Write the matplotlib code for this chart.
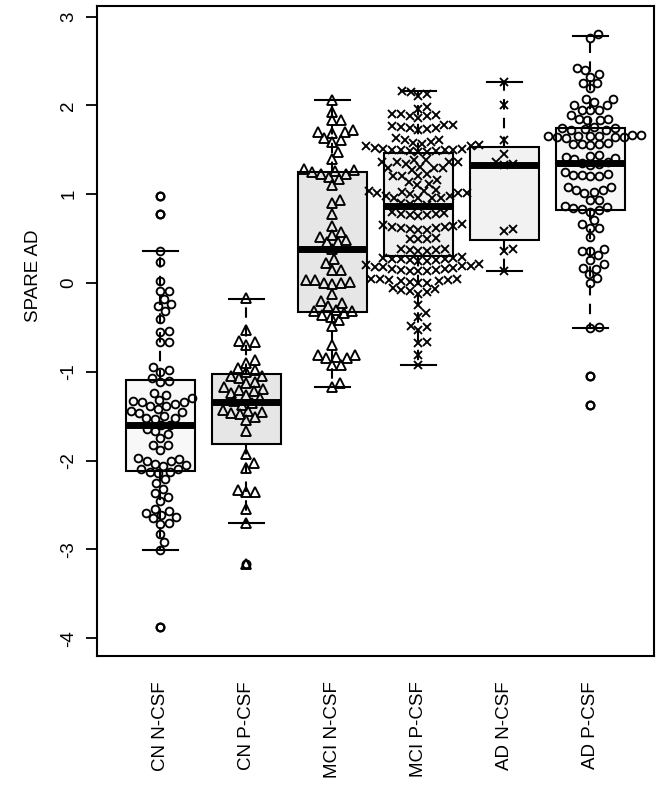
import numpy as np
import matplotlib
matplotlib.use('Agg')
import matplotlib.pyplot as plt

plt.rcParams['font.family'] = ['Liberation Sans', 'DejaVu Sans']

groups = ['CN N-CSF', 'CN P-CSF', 'MCI N-CSF', 'MCI P-CSF', 'AD N-CSF', 'AD P-CSF']
markers = ['o', '^', '^', 'x', 'x', 'o']
box_fill = ['#f8f8f8', '#e6e6e6', '#e6e6e6', '#f0f0f0', '#f2f2f2', '#f7f7f7']

# SPARE AD scores
cn_ncsf = [0.98, 0.78, 0.36, 0.24, 0.02, -0.09, -0.09, -0.18, -0.24, -0.26, -0.32, -0.40,
           -0.54, -0.55, -0.66, -0.66, -0.95, -0.98, -1.00, -1.07, -1.10, -1.11, -1.24, -1.26,
           -1.30, -1.32, -1.33, -1.34, -1.34, -1.36, -1.38, -1.38, -1.42, -1.44, -1.45, -1.46,
           -1.50, -1.52, -1.52, -1.53, -1.60, -1.60, -1.64, -1.67, -1.70, -1.75, -1.82, -1.83,
           -1.88, -1.97, -1.98, -2.00, -2.01, -2.04, -2.05, -2.06, -2.09, -2.10, -2.13, -2.13,
           -2.14, -2.21, -2.25, -2.32, -2.37, -2.41, -2.45, -2.54, -2.57, -2.59, -2.61, -2.64,
           -2.65, -2.70, -2.71, -2.83, -2.92, -3.01, -3.87]
cn_pcsf = [-0.17, -0.53, -0.65, -0.67, -0.70, -0.87, -0.90, -0.96, -0.98, -1.00, -1.05, -1.05,
           -1.07, -1.11, -1.13, -1.17, -1.19, -1.20, -1.22, -1.24, -1.26, -1.30, -1.33, -1.35,
           -1.37, -1.43, -1.44, -1.45, -1.46, -1.47, -1.51, -1.54, -1.67, -1.93, -2.03, -2.08,
           -2.33, -2.35, -2.35, -2.55, -2.70, -3.17]
mci_ncsf = [2.06, 1.93, 1.84, 1.83, 1.72, 1.70, 1.70, 1.69, 1.63, 1.61, 1.59, 1.48, 1.40,
            1.28, 1.27, 1.26, 1.25, 1.23, 1.23, 1.19, 1.17, 1.10, 0.94, 0.90, 0.78, 0.64, 0.57,
            0.54, 0.52, 0.48, 0.46, 0.46, 0.38, 0.27, 0.22, 0.15, 0.15, 0.03, 0.03, 0.01, 0.00,
            0.00, -0.01, -0.12, -0.20, -0.23, -0.26, -0.30, -0.31, -0.32, -0.34, -0.36, -0.38,
            -0.42, -0.49, -0.70, -0.81, -0.81, -0.83, -0.85, -0.85, -0.92, -0.92, -1.13, -1.17]
mci_pcsf = [2.16, 2.15, 2.13, 2.10,
            1.98, 1.96, 1.90, 1.90, 1.89, 1.88, 1.88, 1.86,
            1.78, 1.78, 1.77, 1.76, 1.75, 1.74, 1.73, 1.72,
            1.63, 1.61, 1.61, 1.59, 1.58, 1.57, 1.55, 1.54, 1.54, 1.52,
            1.51, 1.51, 1.50, 1.50, 1.50, 1.50, 1.49, 1.49, 1.48, 1.48,
            1.38, 1.38, 1.36, 1.36, 1.36, 1.36, 1.34, 1.31, 1.29, 1.29, 1.29, 1.27,
            1.23, 1.21, 1.21, 1.20, 1.16, 1.14, 1.12,
            1.10, 1.05, 1.04, 1.04, 1.02, 1.01, 1.01, 1.01, 1.00, 0.98, 0.98, 0.96, 0.96, 0.96, 0.96,
            0.90, 0.89, 0.88, 0.86,
            0.80, 0.79, 0.78, 0.78, 0.77, 0.76, 0.75,
            0.66, 0.65, 0.64, 0.63, 0.63, 0.62, 0.62, 0.61, 0.60, 0.60,
            0.51, 0.50, 0.50, 0.49,
            0.38, 0.38, 0.37, 0.37, 0.36, 0.36,
            0.29, 0.28, 0.28, 0.27, 0.27, 0.27, 0.26, 0.26, 0.25, 0.25,
            0.21, 0.20, 0.19, 0.19, 0.18, 0.18, 0.17, 0.16, 0.16, 0.15, 0.15, 0.14, 0.14, 0.13,
            0.05, 0.04, 0.04, 0.03, 0.03, 0.02, 0.02, 0.01, 0.00, 0.00,
            -0.06, -0.07, -0.08, -0.09, -0.10, -0.12,
            -0.25, -0.34, -0.38, -0.48, -0.50, -0.53, -0.66, -0.68, -0.81, -0.92]
ad_ncsf = [2.26, 2.00, 1.61, 1.45, 1.36, 1.34, 1.33, 0.61, 0.59, 0.38, 0.36, 0.14]
ad_pcsf = [2.80, 2.76, 2.42, 2.40, 2.35, 2.32, 2.25, 2.25, 2.19,
           2.07, 2.07, 2.04, 2.00, 2.00, 1.95, 1.95, 1.95,
           1.89, 1.85, 1.85, 1.83, 1.83,
           1.76, 1.74, 1.74, 1.73, 1.72, 1.72,
           1.67, 1.67, 1.66, 1.66, 1.65, 1.65, 1.64, 1.64, 1.64, 1.63,
           1.58, 1.57, 1.57, 1.56, 1.55,
           1.44, 1.43, 1.42, 1.41, 1.40,
           1.36, 1.35, 1.34, 1.33,
           1.25, 1.23, 1.22, 1.22, 1.21, 1.20,
           1.08, 1.08, 1.05, 1.05, 1.03, 1.01, 0.94, 0.94,
           0.87, 0.85, 0.84, 0.83, 0.82, 0.80,
           0.71, 0.66, 0.62, 0.62, 0.52,
           0.38, 0.36, 0.36, 0.31, 0.26, 0.21,
           0.17, 0.16, 0.10, 0.06, 0.00,
           -0.50, -0.51, -1.05, -1.37]
values = [cn_ncsf, cn_pcsf, mci_ncsf, mci_pcsf, ad_ncsf, ad_pcsf]

# box statistics
whisker_lo = [-3.01, -2.70, -1.17, -0.92, 0.14, -0.51]
q1 = [-2.12, -1.81, -0.33, 0.30, 0.48, 0.82]
med = [-1.60, -1.34, 0.38, 0.87, 1.33, 1.35]
q3 = [-1.09, -1.03, 1.25, 1.46, 1.53, 1.75]
whisker_hi = [0.36, -0.18, 2.06, 2.16, 2.26, 2.78]
outliers = [[0.98, 0.78, -3.87], [-3.17], [], [], [], [-1.05, -1.37]]


def swarm(ypix, d):
    # simple beeswarm: put each point as close to the centre as it fits
    order = np.argsort(ypix)
    px, py = [], []
    out = np.zeros(len(ypix))
    for i in order:
        y = ypix[i]
        cands = [0.0]
        for a, b in zip(px, py):
            dy = abs(b - y)
            if dy < d:
                dx = np.sqrt(d * d - dy * dy)
                cands += [a + dx, a - dx]
        cands = sorted(cands, key=abs)
        for c in cands:
            if all((c - a) ** 2 + (y - b) ** 2 >= d * d - 1e-6 for a, b in zip(px, py)):
                break
        out[i] = c
        px.append(c)
        py.append(y)
    return out


fig = plt.figure(figsize=(6.62, 7.87), dpi=100)
ax = fig.add_axes([0.146, 0.1665, 0.842, 0.826])
pos = np.arange(1, len(groups) + 1)
ax.set_xlim(0.26, 6.74)
ax.set_ylim(-4.2, 3.12)

p0 = ax.transData.transform((0, 0))
p1 = ax.transData.transform((1, 1))
sx, sy = p1[0] - p0[0], p1[1] - p0[1]

ax.bar(pos, np.array(q3) - np.array(q1), bottom=q1, width=0.8, color=box_fill,
       edgecolor='none', zorder=1)

msize = {'o': 5.6, '^': 7.0, 'x': 6.2}
for k in range(len(groups)):
    v = np.array(values[k])
    off = swarm(v * sy, 8.8) / sx
    ax.plot(pos[k] + off, v, linestyle='none', marker=markers[k], ms=msize[markers[k]],
            mfc='none', mec='black', mew=1.35, zorder=2)

stats = []
for k in range(len(groups)):
    stats.append(dict(whislo=whisker_lo[k], q1=q1[k], med=med[k], q3=q3[k],
                      whishi=whisker_hi[k], fliers=outliers[k]))
ax.bxp(stats, positions=pos, widths=0.8, capwidths=0.4, patch_artist=True,
       boxprops=dict(facecolor='none', edgecolor='black', linewidth=1.5),
       whiskerprops=dict(color='black', linewidth=1.5, linestyle=(0, (5, 4))),
       capprops=dict(color='black', linewidth=1.5),
       medianprops=dict(color='black', linewidth=5, solid_capstyle='butt'),
       flierprops=dict(marker='o', ms=5.6, mfc='none', mec='black', mew=1.6),
       manage_ticks=False, zorder=3)

ax.set_xticks(pos)
ax.set_xticklabels(groups, rotation=90, fontsize=13.5)
ax.tick_params(axis='x', length=0, pad=18)
ax.set_yticks(range(-4, 4))
ax.set_yticklabels([str(t) for t in range(-4, 4)], rotation=90, va='center', fontsize=13.5)
ax.tick_params(axis='y', length=8, width=1.3, pad=6)
ax.set_ylabel('SPARE AD', fontsize=13.5)
ax.yaxis.set_label_coords(-0.098, 0.585)
for s in ax.spines.values():
    s.set_linewidth(1.5)

fig.savefig('out.png', dpi=100)
